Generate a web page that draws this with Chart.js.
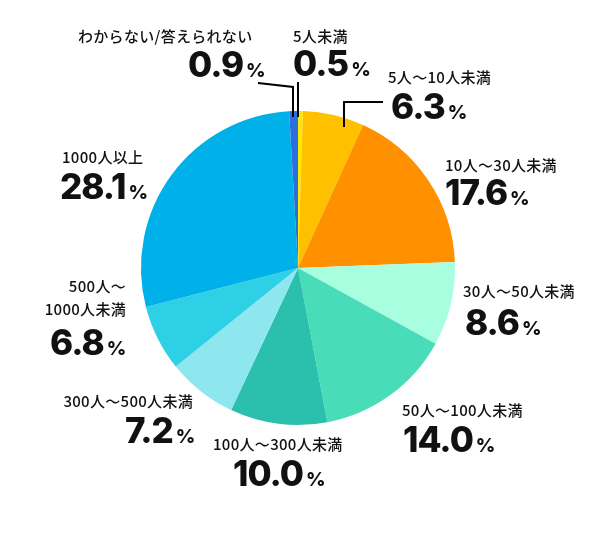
<!DOCTYPE html>
<html>
<head>
<meta charset="utf-8">
<script src="https://cdn.jsdelivr.net/npm/chart.js@4.4.1/dist/chart.umd.min.js"></script>
<style>
  html, body { margin: 0; padding: 0; background: #fff; }
  #wrap { width: 600px; height: 535px; }
</style>
</head>
<body>
<div id="wrap"><canvas id="pieChart" width="600" height="535"></canvas></div>
<script>
// data, clockwise from 12 o'clock
const categories = ['5人未満', '5人〜10人未満', '10人〜30人未満', '30人〜50人未満', '50人〜100人未満',
                    '100人〜300人未満', '300人〜500人未満', ['500人〜', '1000人未満'], '1000人以上', 'わからない/答えられない'];
const shares = [0.5, 6.3, 17.6, 8.6, 14.0, 10.0, 7.2, 6.8, 28.1, 0.9];
const sliceColors = ['#FFE800', '#FFC000', '#FF9100', '#A8FFE0', '#48DDB8',
                     '#2BBFAE', '#8EE6EE', '#2ED0E6', '#00B0E8', '#2A6FE0'];

// label layout: category text (left x / center y), number (left x / baseline)
const labelLayout = [
    { cx: 293, cy: 36, nx: 293, ny: 76 },
    { cx: 388, cy: 77, nx: 391, ny: 119 },
    { cx: 445, cy: 165, nx: 445, ny: 205 },
    { cx: 463, cy: 291, nx: 465, ny: 335 },
    { cx: 402, cy: 410, nx: 403, ny: 452 },
    { cx: 213, cy: 444, nx: 233, ny: 486 },
    { cx: 193, cy: 401, nx: 125, ny: 443, right: true },
    { cx: 126, cy: 286, nx: 50, ny: 355, right: true, lineGap: 23 },
    { cx: 62, cy: 157, nx: 60, ny: 199 },
    { cx: 78, cy: 36, nx: 188, ny: 77 }
];

// leader lines for the small slices: polyline points, last one drops into the pie
const leaders = [
    { index: 9, pts: [[258, 83], [293, 87]], depth: 6 },
    { index: 0, pts: [[298, 82]], depth: 6 },
    { index: 1, pts: [[383, 102], [344, 102]], depth: 9 }
];

const labelPlugin = {
    id: 'labelPlugin',
    afterDraw(chart) {
        const ctx = chart.ctx;
        const arc = chart.getDatasetMeta(0).data[0];
        const cx = arc.x, cy = arc.y, r = arc.outerRadius;

        // leader lines
        ctx.save();
        ctx.strokeStyle = '#000';
        ctx.lineWidth = 2;
        leaders.forEach(l => {
            const last = l.pts[l.pts.length - 1];
            const dx = last[0] - cx;
            const yEdge = cy - Math.sqrt(r * r - dx * dx) + l.depth;
            ctx.beginPath();
            ctx.moveTo(l.pts[0][0], l.pts[0][1]);
            l.pts.slice(1).forEach(p => ctx.lineTo(p[0], p[1]));
            ctx.lineTo(last[0], yEdge);
            ctx.stroke();
        });
        ctx.restore();

        // texts
        ctx.save();
        ctx.fillStyle = '#111';
        categories.forEach((cat, i) => {
            const pos = labelLayout[i];
            const lines = Array.isArray(cat) ? cat : [cat];
            ctx.font = '500 15px "Noto Sans CJK JP"';
            ctx.letterSpacing = '0.3px';
            ctx.textBaseline = 'middle';
            ctx.textAlign = pos.right ? 'right' : 'left';
            lines.forEach((line, k) => {
                ctx.fillText(line, pos.cx, pos.cy + k * (pos.lineGap || 0));
            });

            const num = shares[i].toFixed(1);
            ctx.textAlign = 'left';
            ctx.textBaseline = 'alphabetic';
            ctx.font = '800 35px Inter';
            ctx.letterSpacing = '-1px';
            ctx.fillText(num, pos.nx, pos.ny);
            const w = ctx.measureText(num).width;
            ctx.font = '800 19px Inter';
            ctx.letterSpacing = '0px';
            ctx.fillText('%', pos.nx + w + 3, pos.ny);
        });
        ctx.restore();
    }
};

const config = {
    type: 'pie',
    data: {
        labels: categories,
        datasets: [{
            data: shares,
            backgroundColor: sliceColors,
            borderWidth: 0
        }]
    },
    options: {
        responsive: false,
        animation: false,
        layout: {
            padding: { left: 141, right: 145, top: 111, bottom: 110 }
        },
        plugins: {
            legend: { display: false },
            tooltip: { enabled: false }
        }
    },
    plugins: [labelPlugin]
};

const ctx = document.getElementById('pieChart').getContext('2d');
window.pieChart = new Chart(ctx, config);
</script>
</body>
</html>
